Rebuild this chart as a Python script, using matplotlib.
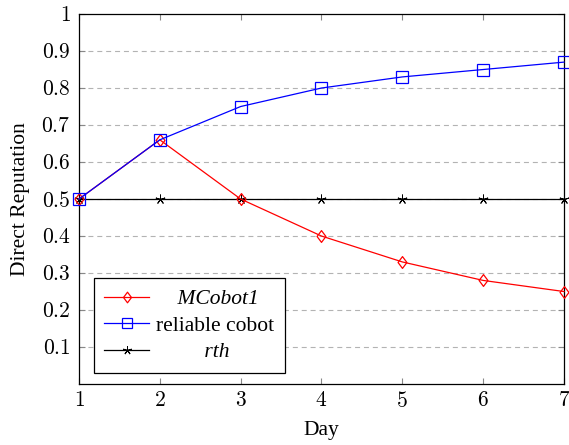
import matplotlib
matplotlib.use("Agg")
import matplotlib.pyplot as plt
from matplotlib.path import Path

days = [1, 2, 3, 4, 5, 6, 7]
mcobot1 = [0.5, 0.66, 0.5, 0.4, 0.33, 0.28, 0.25]
reliable = [0.5, 0.66, 0.75, 0.8, 0.83, 0.85, 0.87]
rth = [0.5, 0.5, 0.5, 0.5, 0.5, 0.5, 0.5]
yticks = [0.1, 0.2, 0.3, 0.4, 0.5, 0.6, 0.7, 0.8, 0.9, 1.0]
ytick_labels = ["0.1", "0.2", "0.3", "0.4", "0.5", "0.6", "0.7", "0.8", "0.9", "1"]

plt.rcParams["font.family"] = ["Liberation Serif", "DejaVu Serif"]
plt.rcParams["mathtext.fontset"] = "cm"
plt.rcParams["font.size"] = 15.5

# pgfplots-style diamond (taller than wide)
diamond = Path([(0, 1), (0.75, 0), (0, -1), (-0.75, 0), (0, 1)],
               [Path.MOVETO, Path.LINETO, Path.LINETO, Path.LINETO, Path.CLOSEPOLY])

fig = plt.figure(figsize=(5.69, 4.45), dpi=100)
ax = fig.add_axes([0.1388, 0.137, 0.8524, 0.8315])

ax.set_xlim(1, 7)
ax.set_ylim(0, 1)
ax.set_yticks(yticks)
ax.set_yticklabels([f"${t}$" for t in ytick_labels])
ax.set_xticks(days)
ax.set_xticklabels([f"${d}$" for d in days])

for y in yticks[:-1]:
    ax.axhline(y, color="#b3b3b3", lw=0.8, ls=(0, (4.5, 3.5)), zorder=0)

ax.plot(days, mcobot1, color="red", lw=0.9, marker=diamond, ms=8.5, mfc="none",
        mec="red", mew=0.9, clip_on=False, zorder=3, label="MCobot1")
ax.plot(days, reliable, color="blue", lw=0.9, marker="s", ms=8.5, mfc="none",
        mec="blue", mew=0.9, clip_on=False, zorder=3, label="reliable cobot")
ax.plot(days, rth, color="black", lw=0.9, marker=(5, 2, 0), ms=7,
        mew=0.7, clip_on=False, zorder=2, label="rth")

ax.tick_params(direction="in", length=4, color="#888888", width=0.8,
               top=True, right=True, pad=6)
for s in ax.spines.values():
    s.set_linewidth(0.9)
    s.set_color("black")

ax.set_xlabel("Day", labelpad=6)
ax.set_ylabel("Direct Reputation", labelpad=8)

leg = ax.legend(loc="lower left", bbox_to_anchor=(0.03, 0.03), fancybox=False,
                edgecolor="black", framealpha=1, handlelength=2.1,
                handletextpad=0.3, labelspacing=0.3, borderpad=0.5,
                borderaxespad=0, markerscale=0.9)
leg.get_frame().set_linewidth(0.9)
texts = leg.get_texts()
texts[0].set_text("    MCobot1")
texts[0].set_fontstyle("italic")
texts[2].set_text("         rth")
texts[2].set_fontstyle("italic")

fig.savefig("out.png", dpi=100)
